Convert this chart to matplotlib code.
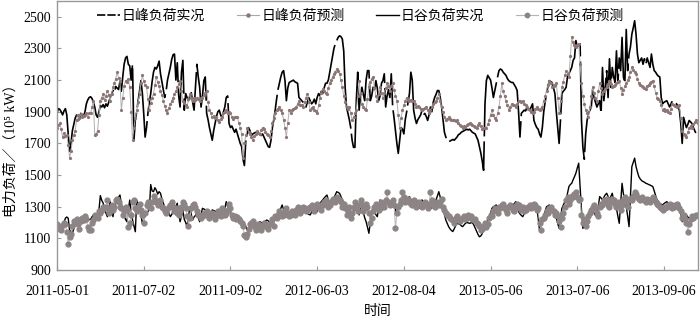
import numpy as np
import matplotlib.pyplot as plt
from matplotlib.lines import Line2D

plt.rcParams['font.family'] = ['Liberation Serif', 'Noto Sans CJK SC', 'DejaVu Sans']
plt.rcParams['font.size'] = 10

# tick labels (one label every 62 days, data = May..Sep of 2011-2013)
tick_pos = [0, 62, 124, 186, 248, 310, 372, 434]
tick_lab = ['2011-05-01', '2011-07-02', '2011-09-02', '2012-06-03',
            '2012-08-04', '2013-05-06', '2013-07-06', '2013-09-06']
yticks = [900, 1100, 1300, 1500, 1700, 1900, 2100, 2300, 2500]

# daily peak load, actual
peak_act = [
    1890, 1920, 1915, 1900, 1880, 1905, 1920, 1880, 1760, 1650,
    1700, 1780, 1820, 1860, 1880, 1870, 1850, 1890, 1880, 1870,
    1900, 1950, 1975, 1990, 1995, 1985, 1960, 1930, 1880, 1865,
    1900, 1940, 1930, 1945, 1925, 1950, 1935, 1960, 1990, 2010,
    2035, 2020, 2060, 2050, 2040, 2090, 2030, 2120, 2200, 2240,
    2250, 2200, 2190, 2100, 2200, 1720, 1850, 1900, 1970, 2030,
    2097, 2020, 1890, 1740, 1800, 1890, 1960, 2015, 2090, 2150,
    2180, 2170, 2190, 2220, 2140, 2090, 2040, 1990, 2030, 2100,
    2140, 2180, 2230, 2260, 2265, 2100, 2210, 2000, 1930, 2150,
    2225, 1910, 2015, 1990, 1970, 2000, 2020, 1960, 1910, 2050,
    2200, 2120, 2055, 1930, 2000, 2097, 2120, 1890, 1850, 1800,
    1760, 1720, 1780, 1826, 1870, 1900, 1910, 1880, 1860, 1900,
    1930, 1990, 2000, 1826, 1800, 1810, 1790, 1770, 1790, 1760,
    1730, 1700, 1680, 1600, 1560, 1720, 1760, 1800, 1780, 1750,
    1760, 1765, 1770, 1760, 1765, 1755, 1750, 1760, 1740, 1720, 1700, 1680, 1675,
    1720, 1800, 1850, 1910, 1980, 2040, 2080, 2120, 2150, 2160,
    2097, 1970, 2050, 2085, 2090, 2095, 2100, 2090, 2085, 2080,
    1990, 1980, 1970, 1960, 1950, 1930, 1960, 1990, 1970, 1950,
    1960, 1980, 1950, 1990, 2015, 2000, 2030, 2015, 2050, 2080,
    2080, 2100, 2150, 2200, 2250, 2300, 2330, 2350, 2370, 2380,
    2375, 2360, 2285, 2055, 1930, 1890, 1850, 1800, 1720, 1675,
    1675, 1970, 2150, 1910, 2000, 2055, 2010, 1970, 2100, 2160,
    2160, 1970, 2000, 2055, 2040, 2097, 2050, 1970, 2000, 2080,
    2097, 2140, 1930, 2000, 2040, 1990, 2140, 1930, 1860, 1780,
    1700, 1637, 1720, 1800, 1790, 1760, 1850, 1900, 1960, 2015,
    2150, 2100, 1910, 1860, 1826, 1850, 1865, 1880, 1910, 1880,
    1890, 1870, 1845, 1880, 1930, 1900, 1960, 1990, 2010, 2034,
    2034, 1990, 1930, 1850, 1770, 1740, 1720, 1710, 1715, 1720,
    1725, 1720, 1730, 1740, 1755, 1760, 1770, 1775, 1780, 1785,
    1790, 1785, 1790, 1780, 1770, 1765, 1760, 1740, 1720, 1680, 1640, 1590, 1530,
    1950, 2097, 2130, 2115, 2100, 2050, 1990, 2034, 2080, 2120,
    2160, 2170, 2165, 2150, 2140, 2130, 2110, 2097, 2090, 2085,
    2085, 2070, 2055, 2034, 1900, 1740, 1890, 1900, 1910, 1905,
    1930, 1920, 1910, 1930, 1950, 1845, 1820, 1800, 1790, 1760,
    1740, 1800, 1900, 1960, 2015, 2060, 2097, 2090, 2085, 2050,
    2015, 1900, 1800, 1700, 1850, 2015, 2030, 2040, 2055, 2120,
    2140, 2160, 2180, 2225, 2240, 2350, 2310, 2320, 2330, 1845,
    1675, 1600, 1760, 1845, 1890, 1910, 1930, 2045, 1990, 1960,
    1930, 1950, 1970, 1890, 2180, 1970, 2060, 2160, 1990, 2235,
    2055, 2180, 2120, 2085, 2285, 2080, 2240, 2160, 2370, 2120,
    2080, 2420, 2160, 2265, 2310, 2390, 2430, 2475, 2390, 2265,
    2210, 2225, 2240, 2200, 2235, 2200, 2240, 2210, 2180, 2265,
    2200, 2160, 2150, 2135, 2125, 2120, 1990, 1950, 1960, 1965,
    1970, 1950, 1930, 1950, 1970, 1960, 1955, 1950, 1930, 1910,
    1826, 1700, 1865, 1830, 1800, 1820, 1845, 1835, 1826, 1800,
    1780, 1760, 1750]

# daily peak load, forecast
peak_fc = [
    1800, 1815, 1826, 1790, 1740, 1765, 1745, 1750, 1690, 1610,
    1650, 1720, 1750, 1780, 1850, 1880, 1860, 1885, 1870, 1875,
    1880, 1890, 1870, 1895, 1890, 1930, 1970, 1750, 1760, 1780,
    1880, 1970, 1990, 2015, 1975, 2000, 2034, 2005, 1970, 2010,
    2055, 2080, 2110, 2150, 2115, 2097, 1910, 1990, 2060, 2097,
    2090, 2110, 2055, 1900, 1720, 1800, 1860, 1910, 1960, 2015,
    2080, 2130, 2095, 2070, 2055, 1980, 1910, 1955, 1990, 2015,
    2070, 2120, 2085, 2060, 2034, 2005, 1970, 1935, 1910, 1890,
    1925, 1950, 1965, 1990, 2010, 2030, 2055, 2075, 2097, 2030,
    1970, 1955, 1940, 1930, 1980, 2015, 1990, 1970, 1985, 1975,
    1990, 1980, 1970, 1985, 1990, 2005, 2020, 2034, 1960, 1910,
    1890, 1865, 1875, 1860, 1865, 1850, 1835, 1855, 1870, 1890,
    1900, 1910, 1895, 1900, 1890, 1870, 1855, 1865, 1870, 1865,
    1830, 1800, 1760, 1610, 1700, 1750, 1800, 1775, 1760, 1740,
    1720, 1745, 1760, 1780, 1765, 1760, 1785, 1800, 1790, 1775, 1760, 1750, 1740,
    1780, 1826, 1860, 1890, 1910, 1920, 1930, 1910, 1890, 1850,
    1800, 1740, 1830, 1910, 1895, 1910, 1920, 1925, 1930, 1950,
    1970, 1945, 1940, 1930, 1960, 1990, 2015, 1960, 1910, 1925,
    1930, 1910, 1905, 1890, 1940, 1990, 2020, 2045, 2030, 2020,
    2015, 2050, 2080, 2100, 2120, 2140, 2150, 2170, 2160, 2140,
    2100, 2055, 2000, 1960, 1930, 1920, 1930, 1890, 1845, 1870,
    1890, 1910, 2000, 2097, 2020, 1950, 1930, 1920, 1910, 1980,
    2055, 2090, 2110, 2120, 2050, 2000, 1970, 2010, 2055, 2020,
    1990, 2020, 2050, 2080, 2060, 2034, 2060, 2080, 2040, 2000,
    1970, 1880, 1800, 1860, 1910, 1940, 1970, 1990, 1980, 1970,
    1975, 1965, 1970, 1950, 1930, 1935, 1930, 1920, 1910, 1920,
    1925, 1930, 1910, 1890, 1910, 1930, 1950, 1960, 1970, 1990,
    2015, 1970, 1930, 1900, 1870, 1845, 1855, 1865, 1855, 1850,
    1845, 1850, 1840, 1845, 1830, 1815, 1810, 1800, 1810, 1805,
    1815, 1820, 1826, 1820, 1815, 1810, 1805, 1800, 1815, 1826, 1810, 1790, 1795,
    1800, 1800, 1820, 1845, 1880, 1910, 1880, 1860, 1845, 1890,
    1930, 2000, 2080, 2030, 2000, 1970, 1940, 1910, 1930, 1950,
    1945, 1940, 1930, 1950, 1970, 1965, 1960, 1970, 1950, 1940,
    1930, 1920, 1910, 1900, 1890, 1900, 1915, 1930, 1920, 1910,
    1920, 1930, 1970, 2000, 2034, 2070, 2097, 2080, 2055, 2065,
    2070, 2080, 1990, 1890, 1970, 2055, 2090, 2130, 2160, 2140,
    2120, 2250, 2370, 2340, 2320, 2310, 2320, 2330, 2200, 2080,
    2000, 1950, 1910, 1890, 1865, 1930, 2000, 2055, 2020, 1990,
    1970, 2030, 2080, 2050, 2015, 2030, 2045, 2055, 2075, 2097,
    2075, 2055, 2065, 2070, 2080, 2090, 2097, 2050, 2015, 2040,
    2060, 2080, 2100, 2120, 2150, 2180, 2165, 2150, 2140, 2110,
    2080, 2070, 2060, 2055, 2050, 2045, 2060, 2070, 2080, 2090,
    2097, 2060, 2020, 1990, 1980, 1970, 1940, 1910, 1915, 1905,
    1910, 1900, 1890, 1920, 1950, 1940, 1935, 1930, 1935, 1940,
    1860, 1780, 1760, 1750, 1740, 1770, 1800, 1810, 1800, 1820,
    1835, 1845, 1830]

# daily valley load, actual
valley_act = [
    1205, 1180, 1152, 1150, 1160, 1200, 1227, 1235, 1227, 1152,
    1140, 1132, 1160, 1185, 1205, 1210, 1213, 1218, 1222, 1220,
    1225, 1227, 1222, 1218, 1220, 1235, 1248, 1240, 1230, 1220,
    1280, 1370, 1340, 1323, 1290, 1260, 1237, 1290, 1332, 1280,
    1237, 1290, 1320, 1342, 1360, 1374, 1320, 1280, 1240, 1220,
    1205, 1280, 1342, 1280, 1216, 1180, 1142, 1342, 1320, 1300,
    1250, 1195, 1220, 1240, 1258, 1270, 1280, 1440, 1400, 1395,
    1420, 1405, 1380, 1395, 1385, 1350, 1322, 1300, 1290, 1280,
    1260, 1237, 1250, 1269, 1290, 1305, 1322, 1260, 1205, 1240,
    1280, 1220, 1200, 1174, 1240, 1300, 1250, 1216, 1235, 1245,
    1258, 1230, 1205, 1250, 1290, 1285, 1282, 1280, 1250, 1227,
    1250, 1280, 1275, 1272, 1269, 1275, 1280, 1270, 1265, 1258,
    1290, 1332, 1300, 1285, 1269, 1250, 1237, 1232, 1230, 1227,
    1220, 1216, 1205, 1200, 1195, 1175, 1152, 1165, 1174, 1190,
    1205, 1195, 1190, 1185, 1195, 1205, 1200, 1195, 1205, 1210, 1216, 1210, 1205,
    1190, 1174, 1200, 1220, 1237, 1250, 1269, 1290, 1311, 1280,
    1260, 1237, 1255, 1269, 1265, 1258, 1265, 1272, 1280, 1270,
    1258, 1262, 1266, 1269, 1265, 1262, 1258, 1252, 1248, 1265,
    1280, 1275, 1272, 1269, 1295, 1322, 1332, 1343, 1355, 1365,
    1374, 1345, 1322, 1327, 1332, 1355, 1375, 1395, 1390, 1385,
    1365, 1343, 1330, 1320, 1311, 1295, 1280, 1260, 1237, 1270,
    1300, 1332, 1290, 1248, 1285, 1322, 1265, 1230, 1205, 1170,
    1132, 1200, 1250, 1290, 1270, 1250, 1237, 1290, 1343, 1310,
    1280, 1310, 1330, 1353, 1340, 1322, 1330, 1343, 1300, 1280,
    1258, 1290, 1322, 1340, 1353, 1350, 1345, 1343, 1355, 1364,
    1345, 1330, 1322, 1335, 1343, 1315, 1290, 1320, 1343, 1325,
    1310, 1300, 1310, 1322, 1305, 1290, 1310, 1330, 1343, 1370,
    1395, 1360, 1322, 1290, 1250, 1216, 1195, 1174, 1160, 1150,
    1143, 1160, 1180, 1195, 1192, 1190, 1180, 1174, 1185, 1195,
    1200, 1198, 1195, 1198, 1200, 1185, 1165, 1145, 1125, 1110, 1115, 1130, 1160,
    1180, 1195, 1215, 1237, 1260, 1290, 1300, 1305, 1311, 1300,
    1290, 1300, 1311, 1308, 1305, 1300, 1305, 1311, 1305, 1300,
    1310, 1320, 1332, 1300, 1269, 1255, 1245, 1237, 1255, 1275,
    1290, 1300, 1311, 1315, 1322, 1315, 1308, 1300, 1230, 1152,
    1180, 1216, 1245, 1270, 1300, 1305, 1311, 1290, 1269, 1255,
    1240, 1227, 1195, 1163, 1225, 1290, 1310, 1330, 1343, 1385,
    1427, 1440, 1448, 1470, 1490, 1512, 1545, 1575, 1430, 1280,
    1163, 1180, 1195, 1225, 1258, 1265, 1272, 1280, 1260, 1245,
    1237, 1300, 1364, 1355, 1343, 1360, 1375, 1385, 1365, 1343,
    1365, 1385, 1340, 1315, 1290, 1240, 1195, 1320, 1448, 1380,
    1340, 1300, 1240, 1174, 1360, 1553, 1580, 1607, 1553, 1520,
    1490, 1475, 1465, 1459, 1455, 1448, 1445, 1440, 1437, 1432,
    1427, 1400, 1370, 1343, 1332, 1322, 1315, 1311, 1320, 1326,
    1332, 1322, 1311, 1316, 1322, 1318, 1315, 1311, 1316, 1322,
    1260, 1205, 1225, 1240, 1248, 1235, 1227, 1222, 1216, 1225,
    1232, 1237, 1240]

# daily valley load, forecast
valley_fc = [
    1190, 1175, 1160, 1150, 1185, 1200, 1190, 1140, 1064, 1110,
    1130, 1180, 1210, 1200, 1220, 1190, 1160, 1210, 1230, 1215,
    1240, 1225, 1170, 1150, 1155, 1200, 1215, 1250, 1240, 1230,
    1270, 1260, 1280, 1300, 1290, 1300, 1340, 1260, 1290, 1310,
    1280, 1300, 1340, 1350, 1330, 1300, 1290, 1250, 1270, 1300,
    1280, 1170, 1200, 1250, 1330, 1340, 1290, 1270, 1300, 1320,
    1280, 1250, 1200, 1260, 1310, 1330, 1300, 1290, 1330, 1370,
    1340, 1330, 1310, 1320, 1340, 1300, 1290, 1270, 1260, 1285,
    1300, 1310, 1330, 1300, 1270, 1290, 1260, 1250, 1275, 1300,
    1330, 1320, 1290, 1240, 1180, 1230, 1290, 1310, 1320, 1300,
    1270, 1250, 1240, 1230, 1240, 1260, 1250, 1270, 1260, 1230,
    1250, 1260, 1240, 1220, 1250, 1270, 1250, 1240, 1290, 1270,
    1250, 1260, 1280, 1320, 1290, 1250, 1230, 1240, 1225, 1235,
    1220, 1210, 1200, 1180, 1120, 1110, 1130, 1160, 1190, 1200,
    1210, 1180, 1150, 1170, 1190, 1160, 1150, 1180, 1200, 1190, 1170, 1160, 1190,
    1200, 1220, 1180, 1240, 1230, 1250, 1270, 1260, 1240, 1250,
    1270, 1290, 1260, 1240, 1250, 1270, 1260, 1250, 1280, 1300,
    1290, 1260, 1280, 1300, 1290, 1270, 1280, 1290, 1300, 1310,
    1290, 1270, 1300, 1320, 1310, 1300, 1280, 1310, 1330, 1340,
    1320, 1300, 1310, 1330, 1350, 1340, 1330, 1360, 1350, 1340,
    1330, 1300, 1320, 1290, 1250, 1270, 1300, 1230, 1260, 1300,
    1330, 1290, 1270, 1310, 1340, 1310, 1270, 1290, 1320, 1300,
    1260, 1200, 1230, 1270, 1300, 1320, 1290, 1280, 1310, 1330,
    1320, 1300, 1340, 1390, 1330, 1310, 1320, 1340, 1310, 1163,
    1260, 1300, 1320, 1340, 1390, 1360, 1330, 1340, 1350, 1330,
    1320, 1310, 1340, 1320, 1300, 1310, 1330, 1320, 1300, 1310,
    1330, 1310, 1290, 1320, 1390, 1340, 1310, 1300, 1320, 1330,
    1310, 1330, 1350, 1300, 1280, 1260, 1250, 1240, 1230, 1220,
    1215, 1200, 1230, 1240, 1225, 1210, 1220, 1230, 1240, 1225,
    1230, 1245, 1235, 1240, 1225, 1215, 1220, 1200, 1190, 1180, 1150, 1160, 1180,
    1200, 1170, 1190, 1230, 1250, 1240, 1270, 1290, 1280, 1260,
    1300, 1290, 1310, 1320, 1290, 1280, 1260, 1300, 1310, 1300,
    1280, 1270, 1300, 1320, 1310, 1290, 1280, 1300, 1270, 1280,
    1290, 1300, 1310, 1290, 1300, 1320, 1310, 1280, 1290, 1200,
    1150, 1220, 1230, 1250, 1270, 1260, 1290, 1300, 1280, 1270,
    1250, 1260, 1240, 1210, 1170, 1230, 1260, 1300, 1340, 1360,
    1320, 1340, 1370, 1360, 1380, 1390, 1360, 1340, 1350, 1250,
    1200, 1220, 1180, 1210, 1240, 1260, 1280, 1300, 1310, 1290,
    1260, 1240, 1300, 1320, 1310, 1340, 1330, 1350, 1310, 1300,
    1330, 1350, 1340, 1320, 1300, 1310, 1330, 1280, 1310, 1340,
    1360, 1330, 1300, 1340, 1350, 1340, 1370, 1390, 1380, 1360,
    1350, 1340, 1360, 1350, 1340, 1330, 1350, 1340, 1330, 1345,
    1360, 1350, 1330, 1320, 1310, 1300, 1290, 1280, 1300, 1290,
    1300, 1310, 1320, 1300, 1290, 1300, 1310, 1320, 1300, 1290,
    1270, 1230, 1250, 1220, 1200, 1141, 1190, 1220, 1240, 1230,
    1240, 1250, 1245]

labels = ['日峰负荷实况', '日峰负荷预测', '日谷负荷实况', '日谷负荷预测']

fig = plt.figure(figsize=(7, 3.21), dpi=100)
ax = fig.add_axes([57/700, 1-270/321, 641/700, 269/321])

ax.plot(np.arange(len(peak_act)), peak_act, color='black', lw=1.2,
        linestyle=(0, (60, 3)))
ax.plot(np.arange(len(peak_fc)), peak_fc, color='#b0b0b0', lw=0.7,
        marker='o', ms=1.3, mfc='#8c7575', mec='#8c7575')
ax.plot(np.arange(len(valley_act)), valley_act, color='black', lw=1.0)
ax.plot(np.arange(len(valley_fc)), valley_fc, color='#b8b8b8', lw=0.7,
        marker='o', ms=3.5, mfc='#8d8585', mec='#8d8585')

handles = [
    Line2D([], [], color='black', lw=1.2, linestyle=(0, (5, 1.2))),
    Line2D([], [], color='#a8a8a8', lw=0.8, marker='o', ms=2.2,
           mfc='#8c7575', mec='#8c7575'),
    Line2D([], [], color='black', lw=1.0),
    Line2D([], [], color='#b4b4b4', lw=0.8, marker='o', ms=3.2,
           mfc='#8d8585', mec='#8d8585'),
]
fig.legend(handles, labels, loc='center', bbox_to_anchor=(0.515, 0.95),
           ncol=4, frameon=False, handlelength=1.6, handletextpad=0.15,
           columnspacing=2.3, fontsize=10)

ax.set_xlim(0, 458.3)
ax.set_ylim(900, 2600)
ax.set_xticks(tick_pos)
ax.set_xticklabels(tick_lab)
ax.set_yticks(yticks)
ax.tick_params(direction='in', length=3, color='#999999', labelsize=10)
ax.tick_params(axis='x', pad=11)
ax.tick_params(axis='y', pad=4)
for s in ax.spines.values():
    s.set_color('#999999')
    s.set_linewidth(1.0)

ax.set_xlabel('时间', fontsize=10)
ax.xaxis.set_label_coords(0.5, -0.13)
ax.set_ylabel('电力负荷／（10⁵ kW）', fontsize=10)
ax.yaxis.set_label_coords(-0.062, 0.455)

plt.savefig('out.png', dpi=100)
